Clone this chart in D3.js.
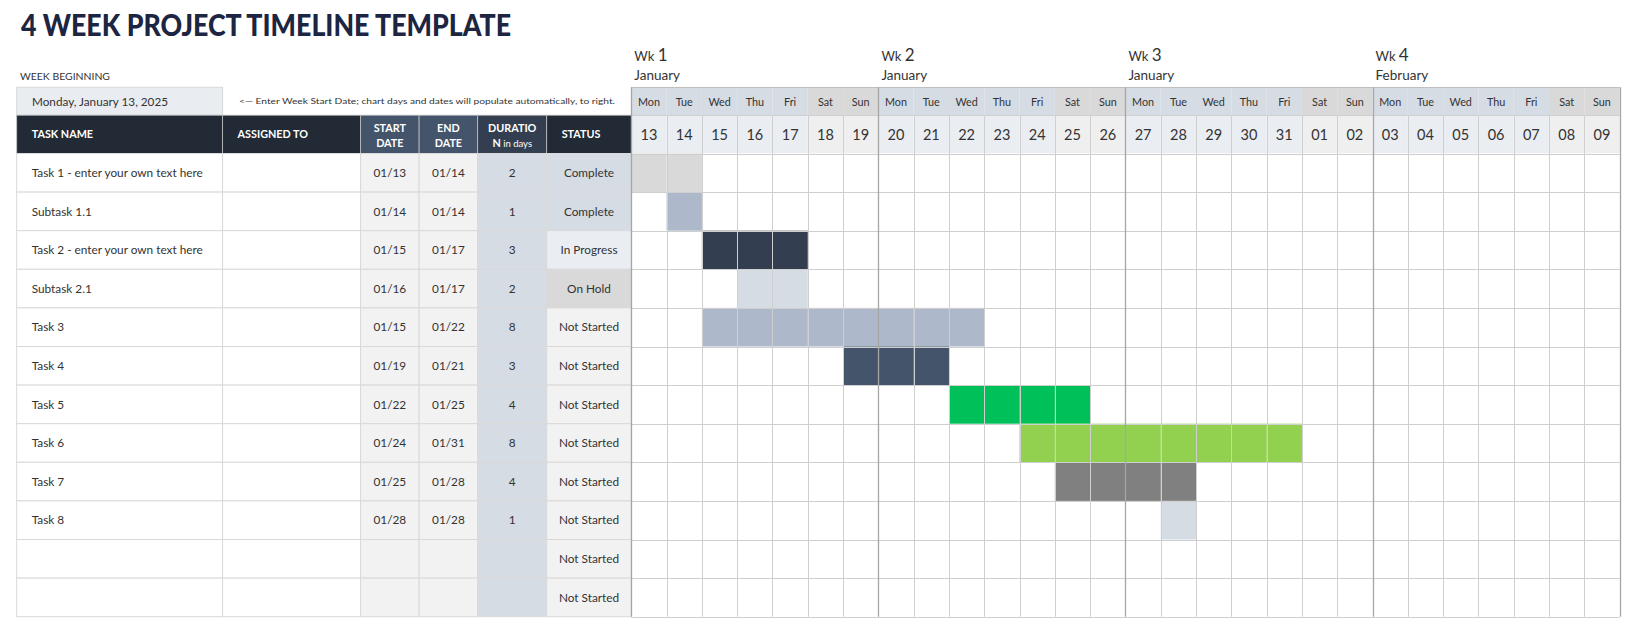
<!DOCTYPE html>
<html>
<head>
<meta charset="utf-8">
<script src="https://cdn.jsdelivr.net/npm/d3@7"></script>
<style>
  html, body { margin: 0; padding: 0; background: #ffffff; }
  svg { display: block; font-family: "Lato", "Open Sans", sans-serif; }
</style>
</head>
<body>
<svg id="chart" width="1639" height="637"></svg>
<script>
// ---------- DATA ----------
const titleText = "4 WEEK PROJECT TIMELINE TEMPLATE";
const weekBeginningLabel = "WEEK BEGINNING";
const weekStartText = "Monday, January 13, 2025";
const noteText = "<— Enter Week Start Date; chart days and dates will populate automatically, to right.";

const weekNumbers = ["1", "2", "3", "4"];
const weekMonths = ["January", "January", "January", "February"];
const dayNames = ["Mon","Tue","Wed","Thu","Fri","Sat","Sun",
                  "Mon","Tue","Wed","Thu","Fri","Sat","Sun",
                  "Mon","Tue","Wed","Thu","Fri","Sat","Sun",
                  "Mon","Tue","Wed","Thu","Fri","Sat","Sun"];
const dayNumbers = ["13","14","15","16","17","18","19",
                    "20","21","22","23","24","25","26",
                    "27","28","29","30","31","01","02",
                    "03","04","05","06","07","08","09"];
const dayKeys = ["01/13","01/14","01/15","01/16","01/17","01/18","01/19",
                 "01/20","01/21","01/22","01/23","01/24","01/25","01/26",
                 "01/27","01/28","01/29","01/30","01/31","02/01","02/02",
                 "02/03","02/04","02/05","02/06","02/07","02/08","02/09"];

const taskNames = ["Task 1 - enter your own text here", "Subtask 1.1", "Task 2 - enter your own text here",
                   "Subtask 2.1", "Task 3", "Task 4", "Task 5", "Task 6", "Task 7", "Task 8", "", ""];
const assignedTo = ["", "", "", "", "", "", "", "", "", "", "", ""];
const startDates = ["01/13","01/14","01/15","01/16","01/15","01/19","01/22","01/24","01/25","01/28","",""];
const endDates   = ["01/14","01/14","01/17","01/17","01/22","01/21","01/25","01/31","01/28","01/28","",""];
const durations  = ["2","1","3","2","8","3","4","8","4","1","",""];
const statuses   = ["Complete","Complete","In Progress","On Hold","Not Started","Not Started",
                    "Not Started","Not Started","Not Started","Not Started","Not Started","Not Started"];
const barColors  = ["#d9d9d9","#adb9ca","#333f50","#d6dce4","#adb9ca","#44546a",
                    "#00c05a","#92d050","#808080","#d6dce4","",""];

const headers = [
  {lines: ["TASK NAME"], align: "left"},
  {lines: ["ASSIGNED TO"], align: "left"},
  {lines: ["START", "DATE"], align: "center"},
  {lines: ["END", "DATE"], align: "center"},
  {lines: ["DURATIO", "N"], align: "center", sub: " in days"},
  {lines: ["STATUS"], align: "left"}
];
const headerFills = ["#222b35", "#222b35", "#44546a", "#44546a", "#333f50", "#222b35"];
const statusFills = {"Complete": "#d6dce4", "In Progress": "#eaeef3", "On Hold": "#d9d9d9", "Not Started": "#f2f2f2"};

// ---------- LAYOUT ----------
const svg = d3.select("#chart");
const colEdges = [16.7, 222.6, 360.6, 419.1, 477.7, 546.7, 631.3];
const ganttLeft = 631.3, ganttRight = 1619.6;
const dayRowTop = 87.3, headTop = 115.2, bodyTop = 153.5, bodyBottom = 616.7;
const textColor = "#333333";

const x = d3.scaleBand().domain(dayKeys).range([ganttLeft, ganttRight]);
const rows = d3.range(taskNames.length);
const y = d3.scaleBand().domain(rows).range([bodyTop, bodyBottom]);
const bw = x.bandwidth(), rh = y.bandwidth();

svg.append("rect").attr("width", 1639).attr("height", 637).attr("fill", "#ffffff");

// Title
svg.append("text").attr("x", 21).attr("y", 36)
  .attr("font-size", 31).attr("font-weight", 900).attr("fill", "#1c2541")
  .attr("textLength", 490).attr("lengthAdjust", "spacingAndGlyphs")
  .text(titleText);

// Week beginning
svg.append("text").attr("x", 20).attr("y", 80).attr("font-size", 9.5).attr("fill", textColor)
  .attr("textLength", 90).attr("lengthAdjust", "spacingAndGlyphs").text(weekBeginningLabel);
svg.append("rect").attr("x", colEdges[0]).attr("y", dayRowTop).attr("width", colEdges[1] - colEdges[0])
  .attr("height", headTop - dayRowTop).attr("fill", "#e9ecf1").attr("stroke", "#d9d9d9").attr("stroke-width", 1);
svg.append("text").attr("x", 32).attr("y", 105.5).attr("font-size", 11.5).attr("fill", textColor)
  .attr("textLength", 136).attr("lengthAdjust", "spacingAndGlyphs").text(weekStartText);
svg.append("text").attr("x", 239).attr("y", 104).attr("font-size", 8).attr("fill", textColor)
  .attr("textLength", 376).attr("lengthAdjust", "spacingAndGlyphs").text(noteText);

// Table header
const hdr = svg.append("g");
headers.forEach((h, i) => {
  const x0 = colEdges[i], x1 = colEdges[i + 1];
  hdr.append("rect").attr("x", x0).attr("y", headTop).attr("width", x1 - x0).attr("height", bodyTop - headTop)
    .attr("fill", headerFills[i]).attr("stroke", "#bfbfbf").attr("stroke-width", 0.8);
  const tx = h.align === "center" ? (x0 + x1) / 2 : x0 + 15;
  const anchor = h.align === "center" ? "middle" : "start";
  const ys = h.lines.length === 1 ? [138] : [132, 147];
  h.lines.forEach((ln, k) => {
    const t = hdr.append("text").attr("x", tx).attr("y", ys[k]).attr("text-anchor", anchor)
      .attr("font-size", 10.8).attr("font-weight", 700).attr("fill", "#ffffff").text(ln);
    if (h.sub && k === h.lines.length - 1) {
      t.append("tspan").attr("font-weight", 400).attr("font-size", 9.5).text(h.sub);
    }
  });
});

// Table body
const body = svg.append("g");
rows.forEach(r => {
  const y0 = y(r);
  const fills = ["#ffffff", "#ffffff", "#f2f2f2", "#f2f2f2", "#d6dce4", statusFills[statuses[r]]];
  const vals = [taskNames[r], assignedTo[r], startDates[r], endDates[r], durations[r], statuses[r]];
  fills.forEach((f, c) => {
    const x0 = colEdges[c], x1 = colEdges[c + 1];
    body.append("rect").attr("x", x0).attr("y", y0).attr("width", x1 - x0).attr("height", rh)
      .attr("fill", f).attr("stroke", "#d9d9d9").attr("stroke-width", 1);
    const v = vals[c];
    if (v) {
      const left = c < 2;
      body.append("text").attr("x", left ? x0 + 15 : (x0 + x1) / 2).attr("y", y0 + rh / 2 + 4.2)
        .attr("text-anchor", left ? "start" : "middle").attr("font-size", 11.8).attr("fill", textColor).text(v);
    }
  });
});

// Gantt header: week labels
const g = svg.append("g");
weekNumbers.forEach((wn, w) => {
  const wx = x(dayKeys[w * 7]) + 3;
  const t = g.append("text").attr("x", wx).attr("y", 61).attr("fill", textColor).attr("font-size", 13).text("Wk ");
  t.append("tspan").attr("font-size", 17).text(wn);
  g.append("text").attr("x", wx).attr("y", 80).attr("fill", textColor).attr("font-size", 13.5).text(weekMonths[w]);
});

// Day-name row and date row
dayKeys.forEach((k, i) => {
  const weekend = (i % 7) >= 5;
  g.append("rect").attr("x", x(k)).attr("y", dayRowTop).attr("width", bw).attr("height", headTop - dayRowTop)
    .attr("fill", weekend ? "#d9d9d9" : "#d6dce4");
  g.append("rect").attr("x", x(k)).attr("y", headTop).attr("width", bw).attr("height", bodyTop - headTop)
    .attr("fill", weekend ? "#efefef" : "#eaedf2");
  g.append("text").attr("x", x(k) + bw / 2).attr("y", 106).attr("text-anchor", "middle")
    .attr("font-size", 10.8).attr("fill", textColor).text(dayNames[i]);
  g.append("text").attr("x", x(k) + bw / 2).attr("y", 140).attr("text-anchor", "middle")
    .attr("font-size", 14.5).attr("fill", textColor).text(dayNumbers[i]);
});

// Body grid background
rows.forEach(r => {
  dayKeys.forEach(k => {
    g.append("rect").attr("x", x(k)).attr("y", y(r)).attr("width", bw).attr("height", rh)
      .attr("fill", "#ffffff");
  });
});

// Bars (cells filled from start to end)
rows.forEach(r => {
  if (!startDates[r]) return;
  const i0 = dayKeys.indexOf(startDates[r]), i1 = dayKeys.indexOf(endDates[r]);
  dayKeys.slice(i0, i1 + 1).forEach(k => {
    g.append("rect").attr("x", x(k)).attr("y", y(r)).attr("width", bw).attr("height", rh)
      .attr("fill", barColors[r]);
  });
});

// Grid lines
const lines = svg.append("g");
const snap = v => Math.round(v) + 0.5;
[headTop].concat(rows.map(r => y(r)), [bodyBottom]).forEach(yy => {
  lines.append("line").attr("x1", ganttLeft).attr("x2", ganttRight).attr("y1", snap(yy)).attr("y2", snap(yy))
    .attr("stroke", "#cfcfcf").attr("stroke-width", 1);
});
lines.append("line").attr("x1", ganttLeft).attr("x2", ganttRight).attr("y1", snap(dayRowTop)).attr("y2", snap(dayRowTop))
  .attr("stroke", "#bfbfbf").attr("stroke-width", 1);
dayKeys.concat(["end"]).forEach((k, i) => {
  const xx = snap(k === "end" ? ganttRight : x(k));
  const weekEdge = i % 7 === 0;
  lines.append("line").attr("x1", xx).attr("x2", xx).attr("y1", weekEdge ? dayRowTop : headTop).attr("y2", bodyBottom)
    .attr("stroke", weekEdge ? "#a6a6a6" : "#cfcfcf").attr("stroke-width", weekEdge ? 1.3 : 1);
});
</script>
</body>
</html>
